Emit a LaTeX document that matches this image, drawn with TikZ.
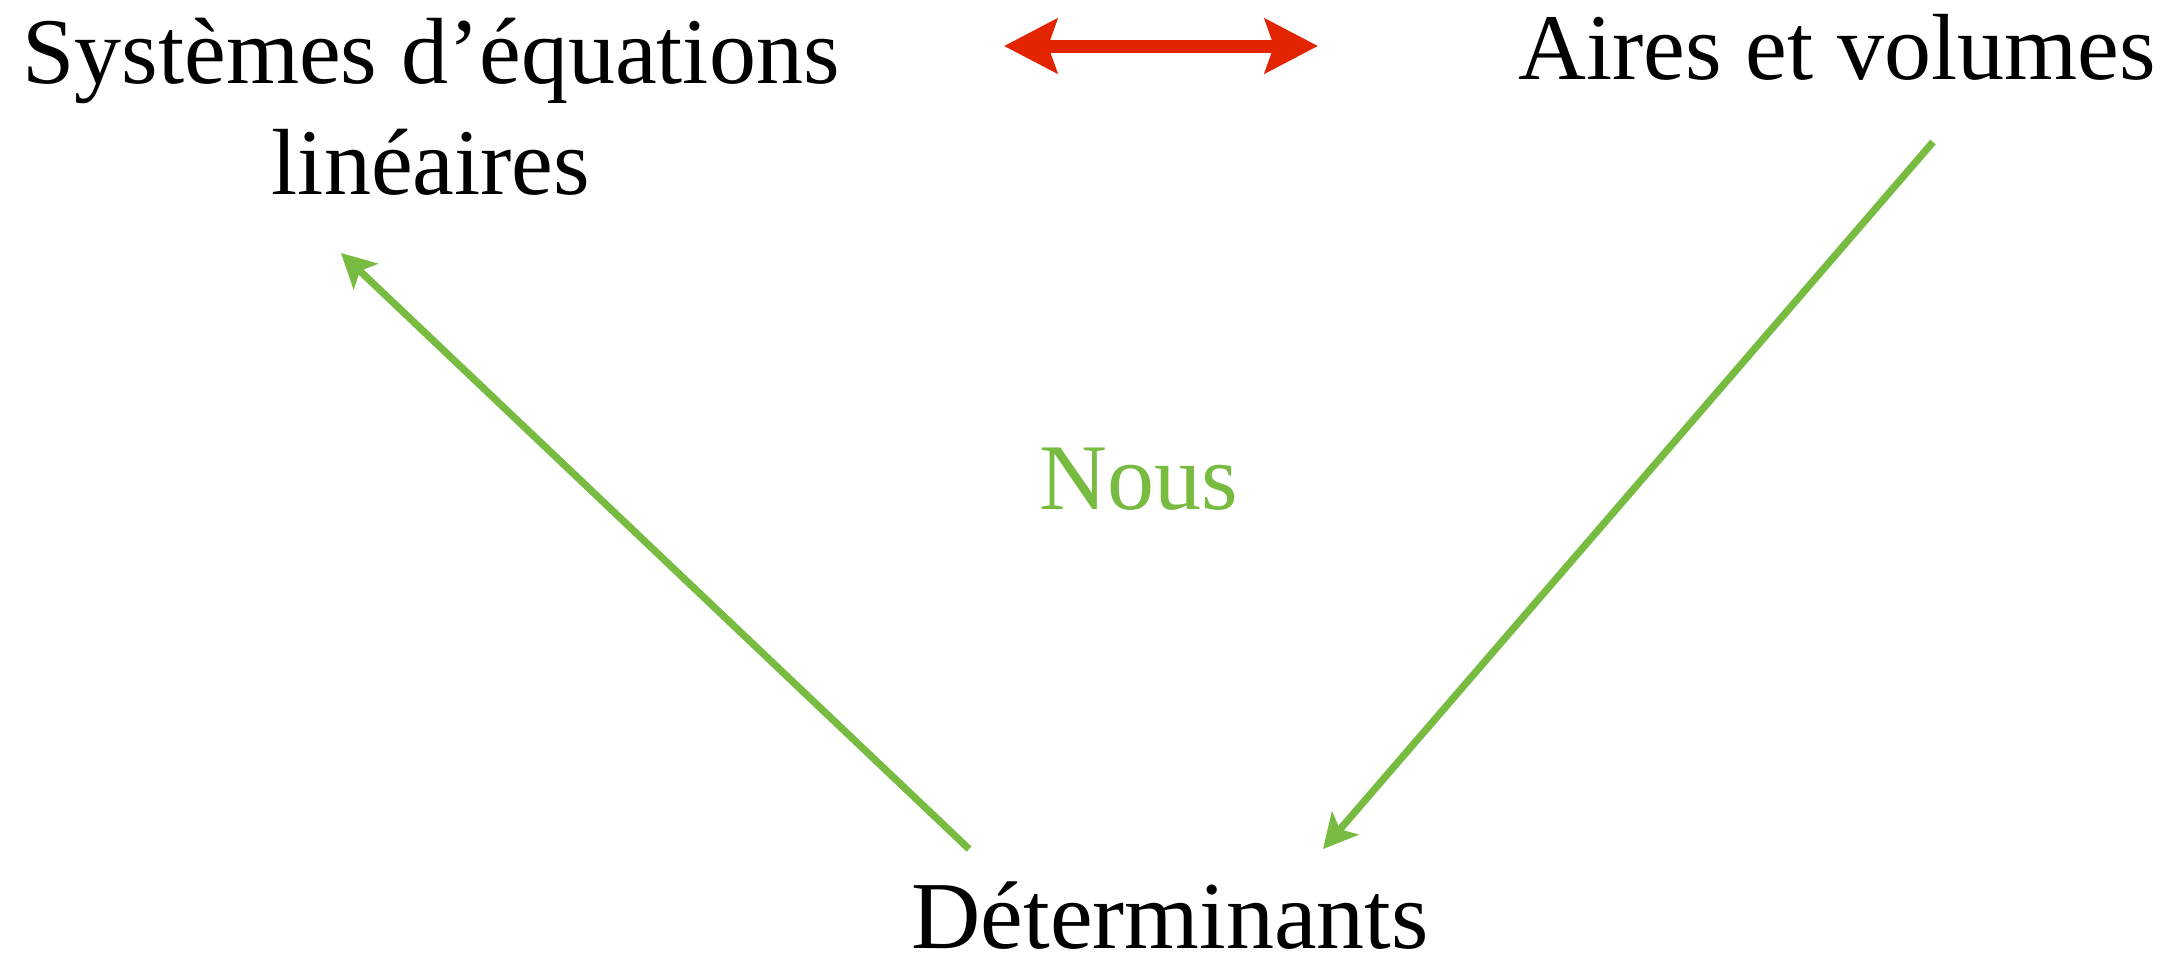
\documentclass[tikz,border=0pt]{standalone}
\usepackage{fontspec}
\setmainfont{Liberation Serif}
\usetikzlibrary{arrows.meta}
\definecolor{kred}{HTML}{E32400}
\definecolor{kgreen}{HTML}{77BB41}
\tikzset{
  lbl/.style={inner sep=0pt, anchor=base, font=\fontsize{47}{55.5}\selectfont},
  redarrow/.style={draw=kred, line width=6.5pt, {Stealth[length=26.5pt,width=27pt,inset=4.5pt]}-{Stealth[length=26.5pt,width=27pt,inset=4.5pt]}},
  greenarrow/.style={draw=kgreen, line width=3.6pt, -{Stealth[length=17pt,width=17.5pt,inset=4pt]}},
}
\begin{document}
\begin{tikzpicture}[x=0.5pt,y=-0.5pt]
\useasboundingbox (0,0) rectangle (2168,964);
\node[lbl, align=center] (sys) at (431,194) {Systèmes d’équations\\linéaires};
\node[lbl] (aires) at (1837,79) {Aires et volumes};
\node[lbl, text=kgreen] (nous) at (1139,509) {Nous};
\node[lbl, font=\fontsize{48}{56}\selectfont] (det) at (1170,948) {Déterminants};
\coordinate (rl) at (1004,46);
\coordinate (rr) at (1318,46);
\draw[redarrow] (rl) -- (rr);
\draw[greenarrow] ([shift={(-201,-99)}]det.base) -- ([shift={(-90,59)}]sys.base);
\draw[greenarrow] ([shift={(96,63)}]aires.base) -- ([shift={(153,-99)}]det.base);
\end{tikzpicture}
\end{document}
